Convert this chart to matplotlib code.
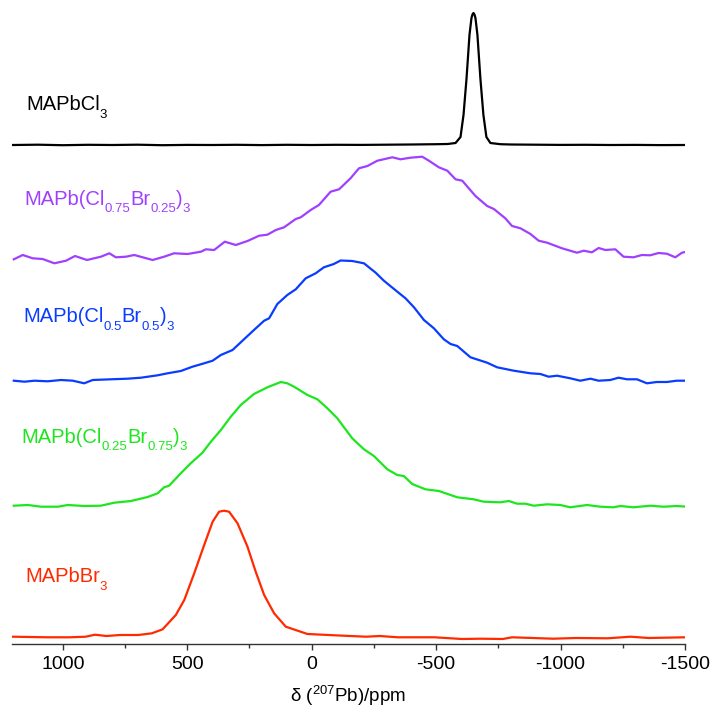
import matplotlib
matplotlib.use("Agg")
import matplotlib.pyplot as plt
from matplotlib import transforms

plt.rcParams['font.family'] = ['Liberation Sans', 'DejaVu Sans']
plt.rcParams['mathtext.fontset'] = 'custom'
plt.rcParams['mathtext.rm'] = 'Liberation Sans'
plt.rcParams['mathtext.it'] = 'Liberation Sans:italic'
plt.rcParams['mathtext.bf'] = 'Liberation Sans:bold'
plt.rcParams['axes.unicode_minus'] = False

# 207Pb chemical shift (ppm) and intensity (a.u.) for each composition
cl_ppm = [1200, 1100, 1000, 900, 800, 700, 600, 500, 400, 300, 200, 100, 0,
          -100, -200, -300, -400, -500, -546, -578, -598, -610, -622, -634,
          -642, -646, -650, -654, -658, -666, -678, -690, -702, -718, -758,
          -800, -900, -1000, -1100, -1200, -1300, -1400, -1500]
cl_int = [0, 0.3, -0.2, 0.2, 0, 0.3, -0.2, 0.1, 0, 0.2, -0.1, 0.2, 0,
          0.2, 0.1, 0.3, 0.5, 0.8, 1.0, 2, 8, 30, 66, 110,
          127, 130.5, 132, 130.5, 127, 110, 66, 30, 8, 2, 0.8,
          0.5, 0.3, 0.1, 0.2, 0, 0.1, -0.1, 0]

cl75_ppm = [1197, 1161, 1121, 1081, 1034, 987, 951, 903, 847, 813, 787, 746,
            713, 639, 593, 553, 499, 445, 425, 392, 349, 305, 258, 211, 178,
            144, 111, 64, 44, 4, -29, -76, -110, -156, -190, -224, -264,
            -324, -357, -397, -444, -471, -511, -545, -578, -605, -658, -705,
            -732, -778, -805, -839, -879, -912, -946, -1006, -1066, -1093,
            -1126, -1153, -1180, -1220, -1253, -1293, -1327, -1360, -1394,
            -1427, -1461, -1488, -1508]
cl75_int = [-1.3, 3, -0.3, -1, -5.3, -2.7, 2, -2, 1.3, 4.7, 0.7, 1.3,
            3, -2, 1.3, 4.7, 4, 6.3, 8.7, 8, 16.3, 13, 17, 22.3, 23.3,
            28, 30.7, 39, 40.7, 48, 53, 66.3, 68.7, 79.7, 89.7, 92, 97.3,
            100.7, 98.7, 100.3, 101.3, 97.3, 90.7, 87.3, 78.7, 77.3, 62, 52,
            49, 39.7, 32, 29.7, 24, 17.3, 15.3, 9.7, 5.3, 7.3,
            5.7, 10, 8, 8.7, 1.3, 0.7, 3, 2.7, 5,
            4.3, 0.7, 5.3, 6.3]

cl50_ppm = [1197, 1154, 1114, 1061, 1007, 960, 914, 880, 807, 740, 686, 619,
            579, 526, 479, 432, 398, 365, 318, 272, 232, 191, 171, 138, 98,
            64, 24, -16, -49, -89, -116, -163, -210, -257, -290, -344, -377,
            -411, -451, -491, -531, -558, -585, -638, -705, -745, -812, -879,
            -919, -952, -986, -1039, -1079, -1120, -1153, -1200, -1233, -1267,
            -1307, -1347, -1387, -1427, -1467, -1508]
cl50_int = [0.3, -0.7, 0.3, -0.3, 1, 0.3, -2.3, 1, 1.7, 2.3, 3.3, 5.7,
            7.7, 10, 14.3, 17.7, 20.3, 26, 31, 41.7, 51, 60.3, 62.7, 77, 86,
            91.7, 102.7, 107.7, 113.7, 117, 120.5, 120, 117.7, 108.3, 100.3, 89.3, 82.7,
            73.7, 61, 52.7, 41.7, 37, 35, 23.7, 18.3, 13.7, 10.3, 7.7,
            7, 4.3, 5.3, 2.7, 0.3, 2.3, 0.3, 1, 3.3, 1.7,
            1.7, -2.3, -1, -1, 0.3, 0.3]

cl25_ppm = [1197, 1141, 1087, 1020, 980, 914, 847, 793, 726, 659, 619, 593,
            573, 526, 486, 439, 405, 365, 325, 285, 232, 178, 124, 98, 71, 17,
            -23, -63, -103, -143, -163, -210, -250, -304, -344, -370, -404,
            -457, -511, -585, -651, -691, -758, -792, -825, -859, -892, -946,
            -999, -1039, -1106, -1160, -1213, -1240, -1293, -1360, -1414,
            -1467, -1508]
cl25_int = [0.3, 1, -0.7, -0.7, 1, 0, 0.3, 3.3, 5, 9, 12.7, 18.7,
            20.3, 32.7, 42.7, 53.3, 64.3, 76, 89.3, 101, 112, 118.7, 124, 122.7, 119.3, 111,
            106.7, 97.7, 87.7, 74.3, 67.7, 56.7, 50, 36.7, 31, 30, 22,
            16.7, 15, 8.7, 6.7, 4.3, 3.7, 5, 2.3, 2.3, 0.3, 1.7,
            1, -1.3, 1, -0.7, -1.3, 0, -1.3, 0.3, -0.7,
            0, -0.7]

br_ppm = [1201, 1063, 972, 908, 871, 825, 770, 697, 642, 599, 546, 512, 472,
          432, 398, 372, 352, 332, 298, 258, 225, 191, 151, 104, 17, -127,
          -219, -273, -347, -494, -604, -677, -768, -805, -970, -1061, -1189,
          -1281, -1354, -1501]
br_int = [0.3, -0.3, -0.3, 0.3, 2.3, 1, 2, 2, 3.7, 7.7, 22, 37, 63.7,
          92, 115.3, 125.3, 126.3, 125.3, 113.7, 90.3, 65.3, 42, 23.7, 10.3, 3, 1.3,
          0.3, 1, -0.3, -0.3, -2, -1.7, -2, -0.3, -1.7, -1, -1.3,
          0.3, -1, -0.3]

ppm_sets = [cl_ppm, cl75_ppm, cl50_ppm, cl25_ppm, br_ppm]
int_sets = [cl_int, cl75_int, cl50_int, cl25_int, br_int]
# formula pieces: (text, is_subscript)
names = [[("MAPbCl", False), ("3", True)],
         [("MAPb(Cl", False), ("0.75", True), ("Br", False), ("0.25", True),
          (")", False), ("3", True)],
         [("MAPb(Cl", False), ("0.5", True), ("Br", False), ("0.5", True),
          (")", False), ("3", True)],
         [("MAPb(Cl", False), ("0.25", True), ("Br", False), ("0.75", True),
          (")", False), ("3", True)],
         [("MAPbBr", False), ("3", True)]]
colors = ["#000000", "#A040FF", "#0A3CFF", "#1EE61E", "#FF2A00"]

# vertical stacking of the traces and label anchors
offsets = [499, 386, 263, 138, 7]
label_pos = [(1148, 534), (1156, 439), (1160, 322), (1168, 201), (1152, 62)]

W, H = 717, 719
fig = plt.figure(figsize=(W / 100, H / 100), dpi=100)
ax = fig.add_axes([11.8 / W, (H - 644) / H, (685 - 11.8) / W, 639 / H])
renderer = fig.canvas.get_renderer()


def formula(x, y, pieces, color, size=14.5, sub_size=9.5, drop=7.5):
    """Write a chemical formula piece by piece with dropped subscripts."""
    dx = 0.0
    for txt, sub in pieces:
        tr = transforms.offset_copy(ax.transData, fig=fig, x=dx,
                                    y=-drop if sub else 0, units='dots')
        t = ax.text(x, y, txt, color=color, fontsize=sub_size if sub else size,
                    ha='left', va='baseline', transform=tr)
        dx += t.get_window_extent(renderer).width


for p, v, off, c, name, (lx, ly) in zip(ppm_sets, int_sets, offsets, colors,
                                         names, label_pos):
    ax.plot(p, [off + s for s in v], color=c, lw=1.6, solid_joinstyle='round')

ax.set_xlim(1205, -1500)
ax.set_ylim(0, 639)

for c, name, (lx, ly) in zip(colors, names, label_pos):
    formula(lx, ly, name, c)

ax.set_yticks([])
for s in ['top', 'left', 'right']:
    ax.spines[s].set_visible(False)
ax.spines['bottom'].set_color('#333333')
ax.spines['bottom'].set_linewidth(1.0)

ax.set_xticks([1000, 500, 0, -500, -1000, -1500])
ax.set_xticks([750, 250, -250, -750, -1250], minor=True)
ax.tick_params(axis='x', which='major', direction='out', length=4.5, width=1,
               color='#333333', labelsize=14, pad=4)
ax.tick_params(axis='x', which='minor', direction='out', length=3, width=1,
               color='#333333')
ax.set_xlabel(r"δ ($^{207}$Pb)/ppm", fontsize=13.5, labelpad=8)

fig.savefig("out.png", dpi=100, facecolor='white')
